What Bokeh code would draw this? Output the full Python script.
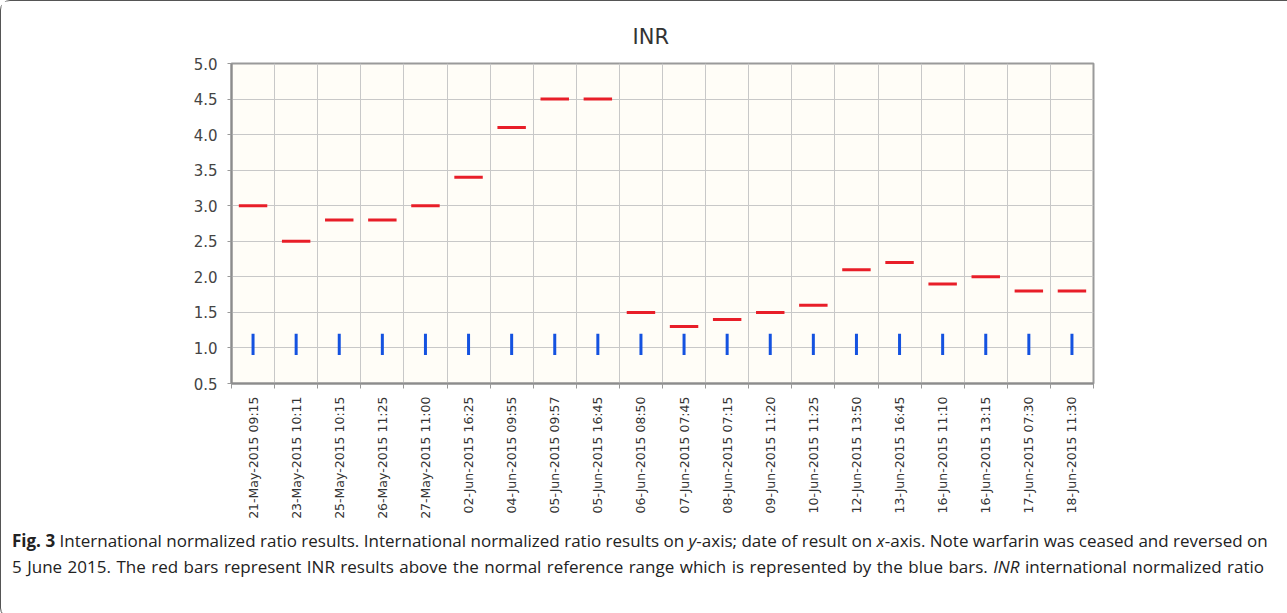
from math import pi
from bokeh.plotting import figure
from bokeh.models import Range1d, FixedTicker, NumeralTickFormatter, Div
from bokeh.layouts import column
from bokeh.embed import file_html
from bokeh.resources import INLINE

# ---- data ----
dates = [
    "21-May-2015 09:15", "23-May-2015 10:11", "25-May-2015 10:15", "26-May-2015 11:25",
    "27-May-2015 11:00", "02-Jun-2015 16:25", "04-Jun-2015 09:55", "05-Jun-2015 09:57",
    "05-Jun-2015 16:45", "06-Jun-2015 08:50", "07-Jun-2015 07:45", "08-Jun-2015 07:15",
    "09-Jun-2015 11:20", "10-Jun-2015 11:25", "12-Jun-2015 13:50", "13-Jun-2015 16:45",
    "16-Jun-2015 11:10", "16-Jun-2015 13:15", "17-Jun-2015 07:30", "18-Jun-2015 11:30",
]
inr = [3.0, 2.5, 2.8, 2.8, 3.0, 3.4, 4.1, 4.5, 4.5, 1.5,
       1.3, 1.4, 1.5, 1.6, 2.1, 2.2, 1.9, 2.0, 1.8, 1.8]
ref_low = [0.9] * len(dates)
ref_high = [1.2] * len(dates)
y_ticks = [0.5, 1.0, 1.5, 2.0, 2.5, 3.0, 3.5, 4.0, 4.5, 5.0]

n = len(dates)
xc = [i + 0.5 for i in range(n)]
bounds = list(range(n + 1))

p = figure(width=1285, height=522, output_backend="svg", toolbar_location=None,
           x_range=Range1d(0, n), y_range=Range1d(0.5, 5.0),
           min_border_left=230, min_border_right=193, min_border_top=62,
           min_border_bottom=140, title="INR")
p.title.align = "left"
p.title.offset = 401
p.title.text_font = "DejaVu Sans"
p.title.text_font_size = "21px"
p.title.text_font_style = "normal"
p.title.text_color = "#333333"
p.title.standoff = 29

p.background_fill_color = "#fffdf7"
p.border_fill_color = "white"
p.outline_line_color = "#9a9a9a"
p.outline_line_width = 2

# grid
p.xgrid.ticker = FixedTicker(ticks=bounds)
p.ygrid.ticker = FixedTicker(ticks=y_ticks)
p.grid.grid_line_color = "#c8c8c8"
p.grid.grid_line_width = 1

# x axis
p.xaxis.ticker = FixedTicker(ticks=xc, minor_ticks=bounds)
p.xaxis.major_label_overrides = {x: d for x, d in zip(xc, dates)}
p.xaxis.major_label_orientation = pi / 2
p.xaxis.major_tick_in = 0
p.xaxis.major_tick_out = 0
p.xaxis.minor_tick_in = 0
p.xaxis.minor_tick_out = 5
p.xaxis.minor_tick_line_color = "#999999"
p.xaxis.major_label_standoff = 8
p.xaxis.major_label_text_font = "DejaVu Sans"
p.xaxis.major_label_text_font_size = "12.5px"
p.xaxis.major_label_text_color = "#333333"

# y axis
p.yaxis.ticker = FixedTicker(ticks=y_ticks)
p.yaxis.formatter = NumeralTickFormatter(format="0.0")
p.yaxis.major_tick_in = 0
p.yaxis.major_tick_out = 4
p.yaxis.minor_tick_in = 0
p.yaxis.minor_tick_out = 0
p.yaxis.major_tick_line_color = "#999999"
p.yaxis.major_label_standoff = 10
p.yaxis.major_label_text_font = "DejaVu Sans"
p.yaxis.major_label_text_font_size = "15px"
p.yaxis.major_label_text_color = "#444444"

for ax in (p.xaxis, p.yaxis):
    ax.axis_line_color = "#8c8c8c"
    ax.axis_line_width = 2

# marks
p.rect(x=xc, y=inr, width=0.66, height=3, height_units="screen",
       fill_color="#e81e28", line_color=None)
p.segment(x0=xc, y0=ref_low, x1=xc, y1=ref_high, line_width=3, line_color="#1452e0")

line1 = ('<b>Fig. 3</b> International normalized ratio results. International normalized ratio '
         'results on <i>y</i>-axis; date of result on <i>x</i>-axis. Note warfarin was ceased and reversed on')
line2 = ('5 June 2015. The red bars represent INR results above the normal reference range which is '
         'represented by the blue bars. <i>INR</i> international normalized ratio')
blk = 'style="text-align:justify;text-align-last:justify;white-space:nowrap;"'
cap = Div(text=(f'<div style="width:1258px;padding-left:6px;font-family:\'Open Sans\';'
                f'font-size:17px;line-height:26px;color:#222;">'
                f'<div {blk}>{line1}</div><div {blk}>{line2}</div></div>'),
          width=1285, height=84)

layout = column(p, cap, styles={"border": "1px solid #555555", "border-radius": "10px",
                                "background": "white"})

open("out.html", "w").write(file_html(layout, INLINE))
